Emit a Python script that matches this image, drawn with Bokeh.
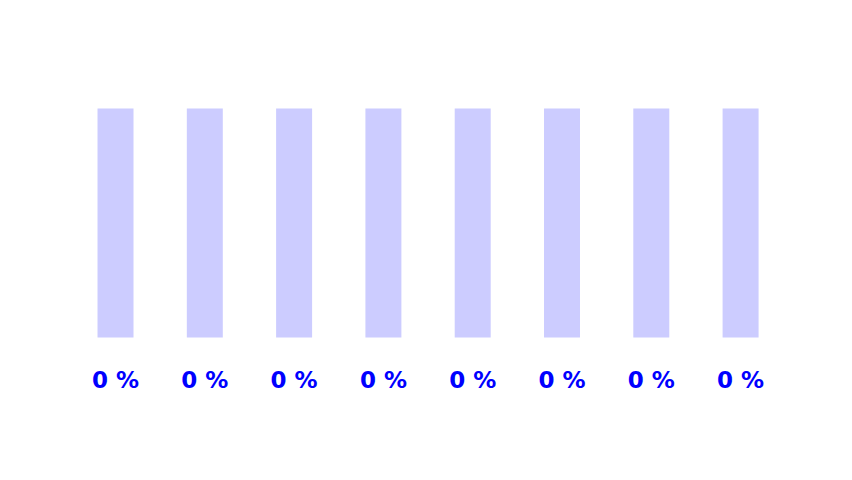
from bokeh.plotting import figure
from bokeh.models import Range1d, ColumnDataSource
from bokeh.core.properties import value
from bokeh.embed import file_html
from bokeh.resources import INLINE

# data
positions = [0, 1, 2, 3, 4, 5, 6, 7]
values = [0, 0, 0, 0, 0, 0, 0, 0]
track_max = [100, 100, 100, 100, 100, 100, 100, 100]
labels = [f"{v} %" for v in values]

W, H = 836, 464
p = figure(width=W, height=H, output_backend="svg", toolbar_location=None,
           x_range=Range1d(-1.288, 8.074), y_range=Range1d(-55.46, 147.16),
           min_border=0, background_fill_color="white", border_fill_color="white")
p.axis.visible = False
p.grid.visible = False
p.outline_line_color = None

src = ColumnDataSource(dict(x=positions, v=values, t=track_max, lab=labels,
                            ly=[-18.6] * len(positions)))

p.vbar(x="x", top="t", bottom=0, width=0.403, source=src,
       fill_color="#ccccff", line_color=None)
p.vbar(x="x", top="v", bottom=0, width=0.403, source=src,
       fill_color="#0000ff", line_color=None)

p.text(x="x", y="ly", text="lab", source=src, text_align="center",
       text_baseline="middle", text_color="#0000ff",
       text_font=value("DejaVu Sans"), text_font_style="bold",
       text_font_size="23px")

open("out.html", "w").write(file_html(p, INLINE))
